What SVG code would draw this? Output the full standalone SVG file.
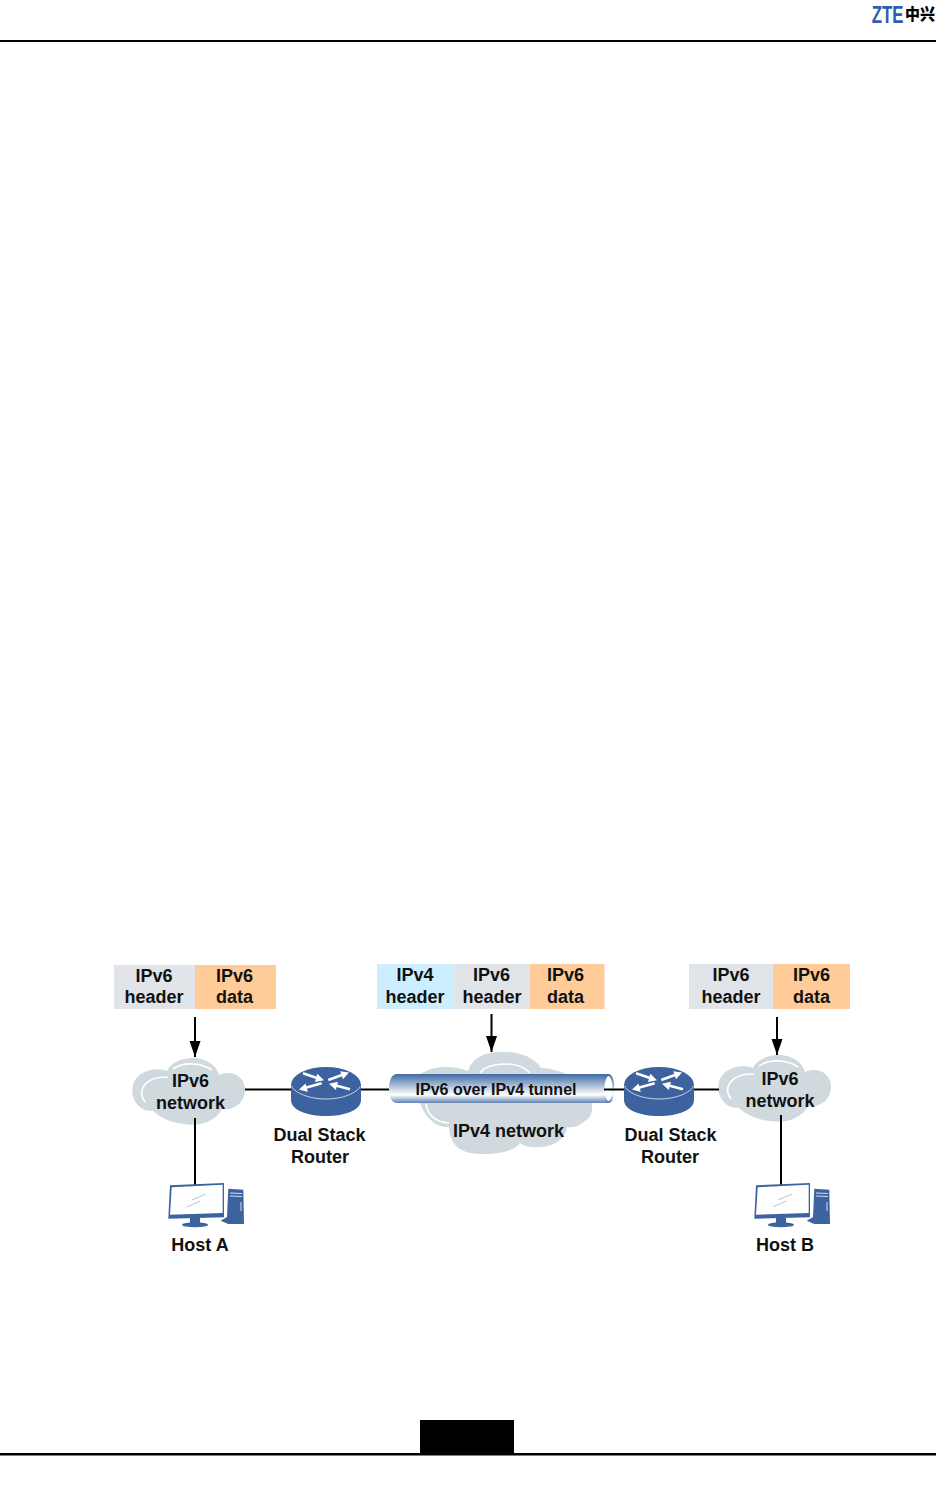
<svg xmlns="http://www.w3.org/2000/svg" width="936" height="1504" viewBox="0 0 936 1504">
<style>
text{font-family:"Liberation Sans",Arial,sans-serif;font-weight:bold;font-size:18px;fill:#111;text-anchor:middle}
.tun{font-size:16px}
.g{fill:#e1e4e9}.o{fill:#ffcc99}.b{fill:#cceeff}
.ln{stroke:#000;stroke-width:2;fill:none}
.cl{fill:#cfd9de}
.hl{fill:none;stroke:#fff;stroke-width:1.6}
.rb{fill:#3c629f}
.hf{fill:#3c629f}
</style>
<defs>
<linearGradient id="tg" x1="0" y1="0" x2="0" y2="1">
<stop offset="0" stop-color="#3f69a5"/><stop offset="0.3" stop-color="#8fa9c9"/><stop offset="0.72" stop-color="#ffffff"/><stop offset="1" stop-color="#5f80b0"/>
</linearGradient>
<marker id="ah" markerUnits="userSpaceOnUse" markerWidth="16" markerHeight="12" refX="16" refY="5.500" orient="auto"><path d="M0 0L16 5.500L0 11Z" fill="#000"/></marker>
<symbol id="cloud" viewBox="130 1056 117 71" overflow="visible" preserveAspectRatio="none">
<path class="cl" d="M152 1111C137 1111 130 1097 133 1085C136 1073 152 1066 167 1071C172 1060 190 1055 204 1060C212 1063 217 1068 219 1075C232 1069 246 1077 245 1091C244 1104 233 1111 222 1109C216 1121 200 1127 184 1124C172 1123 160 1118 152 1110Z"/>
<path class="hl" d="M145 1102C136 1090 146 1076 168 1077M173 1069C183 1062 200 1062 212 1070"/>
</symbol>
<symbol id="router" viewBox="0 0 70 50" overflow="visible">
<path class="rb" d="M0 18V33C0 43 16 49 35 49C54 49 70 43 70 33V18Z"/>
<ellipse cx="35" cy="18" rx="35" ry="18" fill="#3c629f"/>
<path fill="none" stroke="#fff" stroke-width="0.9" d="M0.500 19C4 26 18 32 35 32C52 32 66 26 69.500 19" opacity="0.8"/>
<path fill="none" stroke="#fff" stroke-width="2.600" d="M12 6.300L26 11M11 21.800L30.700 16.300M55 6.500L37.300 13M41 17.500L59 22.300"/>
<path fill="#fff" d="M33 13.200L24 15L26.300 6.800ZM8 22.500L16.800 25L14.600 16.500ZM58 5.500L52 12.200L49.200 4.200ZM38 16.800L47 14.800L44.800 23Z"/>
</symbol>
<symbol id="host" viewBox="0 0 76 50" overflow="visible">
<path class="hf" d="M2 1.300L56 -1V33.300L0.300 34.700Z"/>
<path fill="#fff" d="M3.700 3.300L54.700 0.700V29L2 30.700Z"/>
<path fill="none" stroke="#9fb4cf" stroke-width="0.8" d="M24 16L38 10M19 23L32 17"/>
<path class="hf" d="M22 34H32V39H22Z"/>
<ellipse class="hf" cx="27" cy="40.700" rx="13" ry="2.500"/>
<path class="hf" d="M60.300 4.700L75.300 5.700L76 40L60.300 40L52.700 36.700L59 33Z"/>
<path stroke="#fff" stroke-width="0.8" fill="none" d="M62 9L74 9.500M62 12L74 12.500M73 18V27"/>
</symbol>
</defs>

<g id="page-header">
<rect x="0" y="40" width="936" height="2" fill="#000"/>
<text transform="translate(887.500 22.500) scale(0.84 1.18)" style="font-size:20px;fill:#2f5da8">ZTE</text>
<text transform="translate(920 20) scale(1 1.05)" style="font-size:15px;font-weight:900;fill:#000;font-family:'Noto Sans CJK SC',sans-serif">中兴</text>
</g>
<g id="page-footer">
<rect x="0" y="1453" width="936" height="2.5" fill="#000"/>
<rect x="420" y="1420" width="94" height="34" fill="#000"/>
</g>

<g id="packet-left">
<rect class="g" x="114" y="965" width="81" height="44"/><rect class="o" x="195" y="965" width="81" height="44"/>
<text x="154" y="982">IPv6</text><text x="154" y="1003">header</text>
<text x="234.500" y="982">IPv6</text><text x="234.500" y="1003">data</text>
</g>
<g id="packet-middle">
<rect class="b" x="377" y="964" width="77" height="45"/><rect class="g" x="454" y="964" width="76" height="45"/><rect class="o" x="530" y="964" width="74.500" height="45"/>
<text x="415" y="981">IPv4</text><text x="415" y="1003">header</text>
<text x="491.500" y="981">IPv6</text><text x="492" y="1003">header</text>
<text x="565.500" y="981">IPv6</text><text x="565.500" y="1003">data</text>
</g>
<g id="packet-right">
<rect class="g" x="689" y="964" width="84" height="45"/><rect class="o" x="773" y="964" width="77" height="45"/>
<text x="731" y="981">IPv6</text><text x="731" y="1003">header</text>
<text x="811.500" y="981">IPv6</text><text x="811.500" y="1003">data</text>
</g>

<g id="cloud-ipv6-left">
<use href="#cloud" x="130" y="1056" width="117" height="71"/>
<text x="190.500" y="1086.500">IPv6</text><text x="190.500" y="1109">network</text>
</g>
<g id="cloud-ipv4">
<path class="cl" d="M420 1103C408 1092 412 1076 424 1072C434 1066 455 1065 468 1071C472 1058 484 1052 500 1052C516 1051 534 1056 541 1068C556 1068 580 1078 588 1090C594 1102 594 1116 585 1121C578 1127 572 1128 567 1127C566 1138 555 1146 541 1147C530 1148 524 1146 520 1143C516 1150 498 1155 482 1154C464 1154 450 1148 449 1127C438 1128 426 1120 420 1103Z"/>
<path class="hl" d="M426 1104C428 1116 436 1122 449 1123M480 1073C488 1062 518 1060 530 1073"/>
<text x="508.500" y="1137">IPv4 network</text>
</g>
<g id="tunnel">
<path d="M397 1074H609V1103H397C392 1103 389 1097 389 1088.500C389 1080 392 1074 397 1074Z" fill="url(#tg)"/>
<ellipse cx="608.500" cy="1088.500" rx="5" ry="13.500" fill="#fff" stroke="url(#tg)" stroke-width="2"/>
<text class="tun" x="496" y="1095">IPv6 over IPv4 tunnel</text>
</g>
<g id="cloud-ipv6-right">
<use href="#cloud" x="716" y="1053" width="117" height="71"/>
<text x="780" y="1084.500">IPv6</text><text x="780" y="1107">network</text>
</g>

<g id="connectors">
<path class="ln" d="M245 1089.500H292M360 1089.500H389M604 1089.500H625M693 1089.500H719M195 1118V1185M781 1115V1185"/>
<path class="ln" d="M195 1017V1057" marker-end="url(#ah)"/>
<path class="ln" d="M491.500 1014V1052" marker-end="url(#ah)"/>
<path class="ln" d="M777 1017V1055" marker-end="url(#ah)"/>
</g>

<g id="router-left">
<use href="#router" x="291" y="1067" width="70" height="50"/>
<text x="319.500" y="1141">Dual Stack</text><text x="320" y="1163">Router</text>
</g>
<g id="router-right">
<use href="#router" x="624" y="1067" width="70" height="50"/>
<text x="670.500" y="1141">Dual Stack</text><text x="670" y="1163">Router</text>
</g>
<g id="host-a">
<use href="#host" x="168" y="1184" width="76" height="50"/>
<text x="200" y="1250.500">Host A</text>
</g>
<g id="host-b">
<use href="#host" x="754" y="1184" width="76" height="50"/>
<text x="785" y="1250.500">Host B</text>
</g>
</svg>
